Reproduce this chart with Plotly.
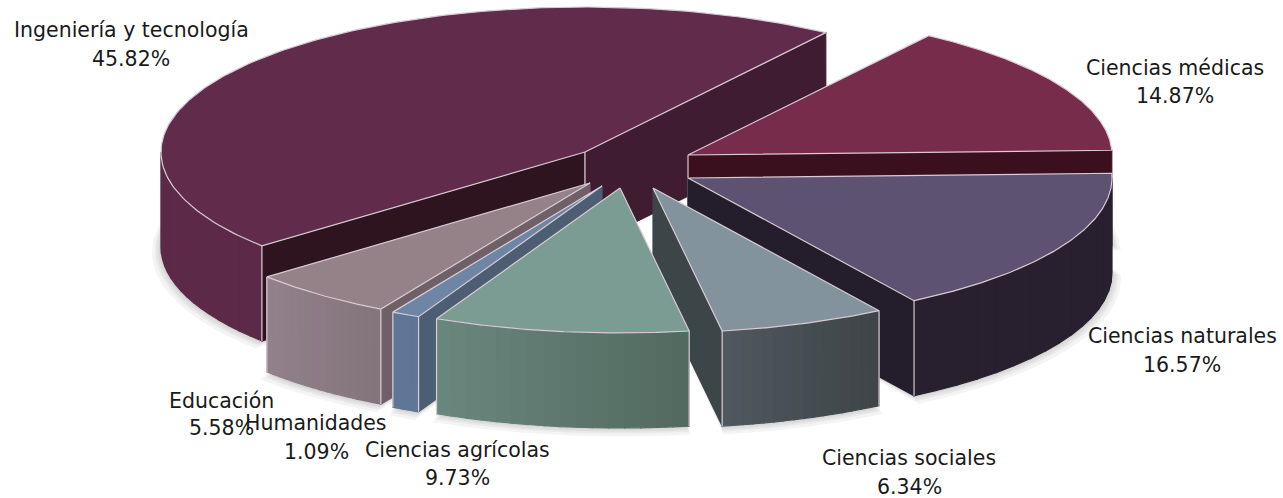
"""
Exploded 3D pie of research output by field, drawn on pixel-scaled axes.
Wedge angles come from the shares; every slice is extruded downwards.
"""

import numpy as np
import plotly.graph_objects as go

# clockwise from the back cut of the largest slice
CATEGORIES = ["Ciencias médicas", "Ciencias naturales", "Ciencias sociales", "Ciencias agrícolas",
              "Humanidades", "Educación", "Ingeniería y tecnología"]
SHARES = [14.87, 16.57, 6.34, 9.73, 1.09, 5.58, 45.82]

# explosion of each slice from the pie centre, px
PULL_X = [48, 48, 13, -20, -38, -50, -55]
PULL_Y = [-17, 6, 16, 16, 14, 11, -20]

TOP_COLORS = ["#772c4c", "#5e5272", "#83939e", "#7b9c92", "#6e86a5", "#958289", "#612c4b"]
SIDE_LEFT = ["#5a2038", "#28202e", "#50595f", "#6a877e", "#5f7795", "#92818a", "#5c2a48"]
SIDE_RIGHT = ["#5a2038", "#28202e", "#3e4447", "#52695f", "#5f7795", "#83747b", "#5c2a48"]
CUT_CCW = ["#000000", "#000000", "#000000", "#000000", "#4d5e73", "#6f5f67", "#2e141f"]
CUT_CW = ["#3a101f", "#241e2c", "#3c4548", "#000000", "#000000", "#000000", "#3f1c30"]

# painter's order, back to front
DRAW_ORDER = [6, 0, 1, 5, 4, 2, 3]

# label centres: x, name line y, value line y
LABEL_X = [1175, 1182, 909, 457, 316, 221, 131]
LABEL_Y1 = [68, 336, 458, 450, 423, 401, 30]
LABEL_Y2 = [96, 365, 487, 478, 452, 428, 59]

WIDTH, HEIGHT = 1283, 498
CX, CY = 640, 172
RX, RY = 424, 145
DEPTH = 95
START_ANGLE = 55.4
EDGE = "#d9cbd3"
N_STRIPS = 16


def rim(deg, ax, ay, grow=1.0):
    t = np.radians(deg)
    return ax + RX * grow * np.cos(t), ay - RY * grow * np.sin(t)


def poly(fig, xs, ys, fill, line=None, width=1.2):
    fig.add_trace(go.Scatter(
        x=xs, y=ys, mode="lines", fill="toself", fillcolor=fill,
        line=dict(color=line or fill, width=width),
        hoverinfo="skip", showlegend=False,
    ))


def stroke(fig, xs, ys, color=EDGE):
    fig.add_trace(go.Scatter(
        x=xs, y=ys, mode="lines", line=dict(color=color, width=1.2),
        hoverinfo="skip", showlegend=False,
    ))


def mix(c1, c2, f):
    a = [int(c1[i:i + 2], 16) for i in (1, 3, 5)]
    b = [int(c2[i:i + 2], 16) for i in (1, 3, 5)]
    return "rgb({},{},{})".format(*[round(p + (q - p) * f) for p, q in zip(a, b)])


def visible_arc(lo, hi):
    # front part of the rim, where the outer wall faces the viewer
    for a, b in ((-180, 0), (180, 360)):
        s, e = max(lo, a), min(hi, b)
        if e > s:
            return s, e
    return None


# slice boundaries, going clockwise from the start angle
bounds = START_ANGLE - np.cumsum([0] + SHARES) * 3.6

fig = go.Figure()

# soft shadow under the slices
for i in DRAW_ORDER:
    ax, ay = CX + PULL_X[i], CY + PULL_Y[i]
    t = np.linspace(bounds[i + 1], bounds[i], 80)
    for d in (9, 6, 4, 2):
        grow = 1 + d / RX
        px, py = rim(t, ax, ay + DEPTH + d * 0.6, grow)
        poly(fig, np.r_[ax, px, ax], np.r_[ay + DEPTH, py, ay + DEPTH], "rgba(95,95,95,0.07)", "rgba(0,0,0,0)")

for i in DRAW_ORDER:
    ax, ay = CX + PULL_X[i], CY + PULL_Y[i]
    cw, ccw = bounds[i + 1], bounds[i]
    if i == 6:
        # largest slice wraps past 180 degrees, keep its angles ascending
        cw, ccw = bounds[0], bounds[0] + SHARES[6] * 3.6

    # cut faces
    for deg, color in ((ccw, CUT_CCW[i]), (cw, CUT_CW[i])):
        facing = np.cos(np.radians(deg)) < 0 if deg == ccw else np.cos(np.radians(deg)) > 0
        if facing:
            ex, ey = rim(deg, ax, ay)
            poly(fig, [ax, ex, ex, ax, ax], [ay, ey, ey + DEPTH, ay + DEPTH, ay], color)
            if i in (0, 6):
                stroke(fig, [ax, ax], [ay, ay + DEPTH])

    # outer wall, cut in strips so the shade can run left to right
    arc = visible_arc(cw, ccw)
    if arc:
        edges = np.linspace(arc[0], arc[1], N_STRIPS + 1)
        x_all = rim(edges, ax, ay)[0]
        x_min, x_max = x_all.min(), x_all.max()
        for s, e in zip(edges[:-1], edges[1:]):
            t = np.linspace(s, e, 8)
            px, py = rim(t, ax, ay)
            f = (px.mean() - x_min) / max(x_max - x_min, 1)
            poly(fig, np.r_[px, px[::-1], px[0]], np.r_[py, py[::-1] + DEPTH, py[0]],
                 mix(SIDE_LEFT[i], SIDE_RIGHT[i], f))
        for deg in (cw, ccw):
            if np.sin(np.radians(deg)) < 0:
                ex, ey = rim(deg, ax, ay)
                stroke(fig, [ex, ex], [ey, ey + DEPTH])

    # top face
    t = np.linspace(cw, ccw, 160)
    px, py = rim(t, ax, ay)
    poly(fig, np.r_[ax, px, ax], np.r_[ay, py, ay], TOP_COLORS[i], EDGE)

# labels, one annotation per line to keep the wide line spacing
for i, name in enumerate(CATEGORIES):
    for text, y in ((name, LABEL_Y1[i]), (f"{SHARES[i]:.2f}%", LABEL_Y2[i])):
        fig.add_annotation(x=LABEL_X[i], y=y, text=text, showarrow=False,
                           xanchor="center", yanchor="middle",
                           font=dict(family="DejaVu Sans", size=20.5, color="#1a1a1a"))

fig.update_layout(
    width=WIDTH, height=HEIGHT,
    paper_bgcolor="white", plot_bgcolor="white",
    margin=dict(l=0, r=0, t=0, b=0),
    showlegend=False,
    xaxis=dict(range=[0, WIDTH], visible=False, fixedrange=True),
    yaxis=dict(range=[HEIGHT, 0], visible=False, fixedrange=True),
)

fig.write_html("out.html", config=dict(displayModeBar=False),
               post_script="document.body.style.margin='0';")
